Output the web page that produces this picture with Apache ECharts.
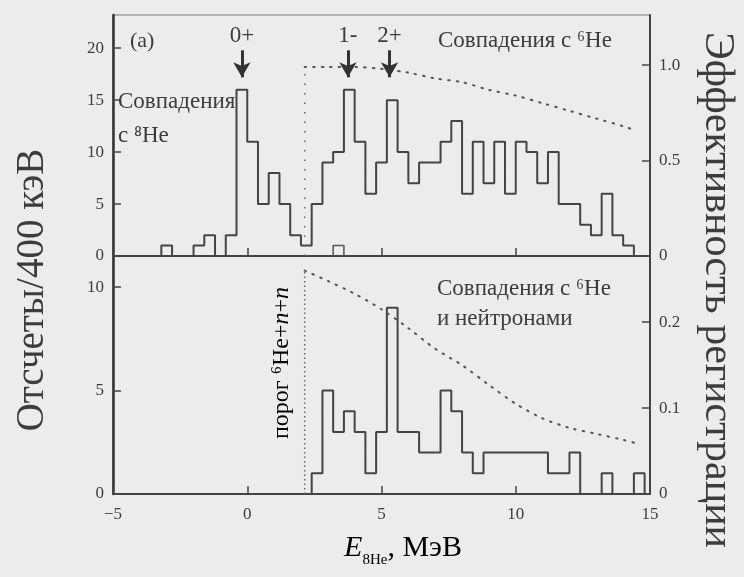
<!DOCTYPE html>
<html>
<head>
<meta charset="utf-8">
<script src="https://cdn.jsdelivr.net/npm/echarts@6/dist/echarts.min.js"></script>
<style>
html,body{margin:0;padding:0;background:#ececec;}
#chart{width:744px;height:577px;}
</style>
</head>
<body>
<div id="chart"></div>
<script>
// ---------- DATA ----------
const binWidth = 0.4; // MeV (400 keV)
// Top panel: coincidences with 6He (bin left edges, counts)
const topEdges = [-3.2,-2.8,-2.4,-2.0,-1.6,-1.2,-0.8,-0.4,0.0,0.4,0.8,1.2,1.6,2.0,2.4,2.8,3.2,3.6,4.0,4.4,4.8,5.2,5.6,6.0,6.4,6.8,7.2,7.6,8.0,8.4,8.8,9.2,9.6,10.0,10.4,10.8,11.2,11.6,12.0,12.4,12.8,13.2,13.6,14.0];
const topCounts = [1,0,0,1,2,0,2,16,11,5,8,5,2,1,5,9,10,16,11,6,9,15,10,7,9,9,11,13,6,11,7,11,6,11,10,7,10,5,5,3,2,6,2,1];
// small extra box in top panel
const topBoxEdges = [3.2];
const topBoxCounts = [1];
// Bottom panel: coincidences with 6He and neutrons
const botEdges = [2.4,2.8,3.2,3.6,4.0,4.4,4.8,5.2,5.6,6.0,6.4,6.8,7.2,7.6,8.0,8.4,8.8,9.2,9.6,10.0,10.4,10.8,11.2,11.6,12.0,12.4,12.8,13.2,13.6,14.0,14.4];
const botCounts = [1,5,3,4,3,1,3,9,3,3,2,2,5,4,2,1,2,2,2,2,2,2,1,1,2,0,0,1,0,0,1];
// Efficiency curves
const thresholdE = 2.14;
const topEffE = [2.14,3,4,5,6,7,8,9,10,11,12,13,14,14.4];
const topEffV = [0.99,0.99,0.99,0.98,0.96,0.93,0.91,0.87,0.84,0.80,0.76,0.72,0.68,0.66];
const botEffE = [2.14,3,4,5,6,7,8,9,10,11,12,13,14,14.6];
const botEffV = [0.260,0.248,0.233,0.215,0.193,0.169,0.150,0.127,0.105,0.088,0.077,0.070,0.063,0.058];
// Level arrows
const levelNames = ['0+','1-','2+'];
const levelE = [-0.2,3.75,5.3];
const arrowFrom = 19.8, arrowTo = 17.2;
// Axis ticks
const xTicks = {min:-5,max:15,interval:5};

// ---------- BUILD ----------
const FONT = "'Liberation Serif','DejaVu Serif',serif";
const INK = '#3c3c3c';
function histPoints(edges, counts){
  const pts = [[edges[0],0]];
  for (let i=0;i<edges.length;i++) pts.push([edges[i],counts[i]]);
  pts.push([edges[edges.length-1]+binWidth,0]);
  return pts;
}
function zip(a,b){return a.map((v,i)=>[v,b[i]]);}

const histStyle = {color:'#444',width:2};
const dotStyle = {color:'#555',width:2,type:[1.5,7],cap:'round'};

const chart = echarts.init(document.getElementById('chart'));
const axisLabelBase = {color:INK,fontFamily:FONT,fontSize:17,showMaxLabel:false};
const tickBase = {show:true,inside:true,length:8,lineStyle:{color:'#444',width:1.5}};

const option = {
  backgroundColor:'#ececec',
  animation:false,
  grid:[
    {left:113,top:15,width:537,height:241,show:true,borderColor:'#777',borderWidth:1.2,backgroundColor:'transparent'},
    {left:113,top:256,width:537,height:238,show:true,borderColor:'#777',borderWidth:1.2,backgroundColor:'transparent'}
  ],
  xAxis:[
    {gridIndex:0,type:'value',min:xTicks.min,max:xTicks.max,interval:xTicks.interval,
     axisLine:{show:true,onZero:false,lineStyle:{color:'#444',width:2}},axisTick:tickBase,axisLabel:{show:false},splitLine:{show:false}},
    {gridIndex:1,type:'value',min:xTicks.min,max:xTicks.max,interval:xTicks.interval,
     axisLine:{show:true,onZero:false,lineStyle:{color:'#444',width:2}},axisTick:tickBase,
     axisLabel:Object.assign({},axisLabelBase,{margin:12,showMaxLabel:true,formatter:v=>v<0?'\u2212'+Math.abs(v):String(v)}),splitLine:{show:false}}
  ],
  yAxis:[
    {gridIndex:0,type:'value',min:0,max:23.2,interval:5,position:'left',
     axisLine:{show:true,onZero:false,lineStyle:{color:'#333',width:2.5}},axisTick:tickBase,
     axisLabel:Object.assign({},axisLabelBase,{margin:9}),splitLine:{show:false}},
    {gridIndex:0,type:'value',min:0,max:1.262,interval:0.5,position:'right',
     axisLine:{show:true,onZero:false,lineStyle:{color:'#444',width:2}},axisTick:tickBase,
     axisLabel:Object.assign({},axisLabelBase,{margin:9,formatter:v=>v===0?'0':v.toFixed(1)}),splitLine:{show:false}},
    {gridIndex:1,type:'value',min:0,max:11.5,interval:5,position:'left',
     axisLine:{show:true,onZero:false,lineStyle:{color:'#333',width:2.5}},axisTick:tickBase,
     axisLabel:Object.assign({},axisLabelBase,{margin:9}),splitLine:{show:false}},
    {gridIndex:1,type:'value',min:0,max:0.277,interval:0.1,position:'right',
     axisLine:{show:true,onZero:false,lineStyle:{color:'#444',width:2}},axisTick:tickBase,
     axisLabel:Object.assign({},axisLabelBase,{margin:9,formatter:v=>v===0?'0':v.toFixed(1)}),splitLine:{show:false}}
  ],
  series:[
    {type:'line',xAxisIndex:0,yAxisIndex:0,step:'end',showSymbol:false,data:histPoints(topEdges,topCounts),lineStyle:histStyle},
    {type:'line',xAxisIndex:0,yAxisIndex:0,step:'end',showSymbol:false,data:histPoints(topBoxEdges,topBoxCounts),lineStyle:{color:'#555',width:1.5}},
    {type:'line',xAxisIndex:0,yAxisIndex:1,smooth:0.3,showSymbol:false,data:zip(topEffE,topEffV),lineStyle:dotStyle},
    {type:'line',xAxisIndex:0,yAxisIndex:1,showSymbol:false,data:[[thresholdE,0],[thresholdE,topEffV[0]]],lineStyle:{color:'#666',width:1.5,type:[1.5,8]}},
    {type:'line',xAxisIndex:0,yAxisIndex:0,data:[],
     markLine:{silent:true,symbol:['none','arrow'],symbolSize:[13,15],animation:false,
       lineStyle:{color:'#333',width:3,type:'solid'},
       label:{show:true,position:'start',distance:3,formatter:'{b}',color:INK,fontFamily:FONT,fontSize:23},
       data:levelNames.map((n,i)=>[{name:n,coord:[levelE[i],arrowFrom]},{coord:[levelE[i],arrowTo]}])}},
    {type:'line',xAxisIndex:1,yAxisIndex:2,step:'end',showSymbol:false,data:histPoints(botEdges,botCounts),lineStyle:histStyle},
    {type:'line',xAxisIndex:1,yAxisIndex:3,smooth:0.3,showSymbol:false,data:zip(botEffE,botEffV),lineStyle:dotStyle},
    {type:'line',xAxisIndex:1,yAxisIndex:3,showSymbol:false,data:[[thresholdE,0],[thresholdE,botEffV[0]]],lineStyle:{color:'#666',width:1.5,type:[1.5,3]}}
  ],
  graphic:[
    {type:'text',left:130,top:30,style:{text:'(a)',font:'22px '+FONT,fill:INK}},
    {type:'text',left:438,top:29,style:{text:'Совпадения с \u2076He',font:'23px '+FONT,fill:INK}},
    {type:'text',left:118,top:90,style:{text:'Совпадения',font:'23px '+FONT,fill:INK}},
    {type:'text',left:118,top:124,style:{text:'с \u2078He',font:'23px '+FONT,fill:INK}},
    {type:'text',left:437,top:277,style:{text:'Совпадения с \u2076He',font:'23px '+FONT,fill:INK}},
    {type:'text',left:437,top:307,style:{text:'и нейтронами',font:'23px '+FONT,fill:INK}},
    {type:'text',x:282,y:363,rotation:Math.PI/2,
     style:{text:'{a|порог \u2076He+}{i|n}{a|+}{i|n}',align:'center',verticalAlign:'middle',
       rich:{a:{fontSize:24,fontFamily:FONT,color:INK},i:{fontSize:24,fontFamily:FONT,fontStyle:'italic',color:INK}}}},
    {type:'text',x:33,y:290,rotation:Math.PI/2,
     style:{text:'Отсчеты/400 кэВ',font:'39px '+FONT,fill:INK,align:'center',verticalAlign:'middle'}},
    {type:'text',x:717,y:290,rotation:-Math.PI/2,
     style:{text:'Эффективность регистрации',font:'42px '+FONT,fill:INK,align:'center',verticalAlign:'middle'}},
    {type:'text',x:403,y:548,
     style:{text:'{e|E}{s|8He}{t|, МэВ}',align:'center',verticalAlign:'middle',
       rich:{e:{fontSize:30,fontFamily:FONT,fontStyle:'italic',color:INK,lineHeight:40,verticalAlign:'middle'},
             s:{fontSize:15,fontFamily:FONT,color:INK,lineHeight:16,verticalAlign:'bottom'},
             t:{fontSize:30,fontFamily:FONT,color:INK,lineHeight:40,verticalAlign:'middle'}}}}
  ]
};
chart.setOption(option);
</script>
</body>
</html>
